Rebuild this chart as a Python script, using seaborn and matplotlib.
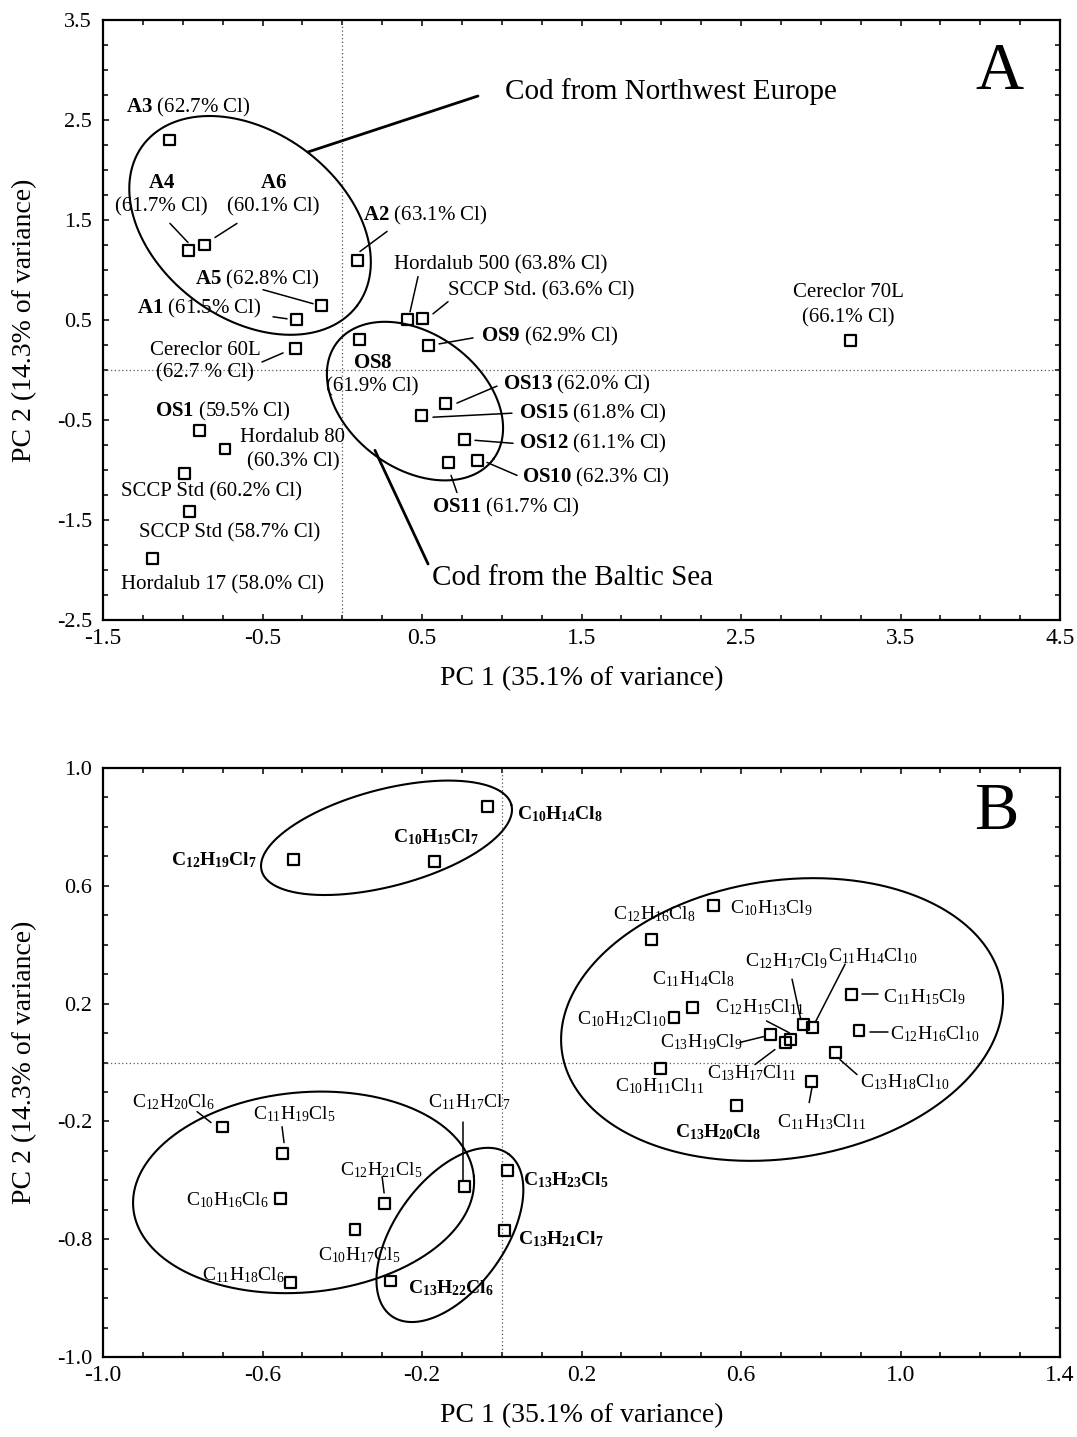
import re
import numpy as np
import pandas as pd
import matplotlib
matplotlib.use("Agg")
import matplotlib.pyplot as plt
from matplotlib.ticker import MultipleLocator, FixedLocator, FixedFormatter
import seaborn as sns

sns.set_style("ticks")
plt.rcParams["font.family"] = ["Liberation Serif", "DejaVu Serif"]
plt.rcParams["mathtext.fontset"] = "custom"
plt.rcParams["mathtext.rm"] = "Liberation Serif"
plt.rcParams["mathtext.bf"] = "Liberation Serif:bold"
plt.rcParams["mathtext.it"] = "Liberation Serif:italic"
plt.rcParams["mathtext.default"] = "regular"
for key in ("text.color", "axes.labelcolor", "xtick.color", "ytick.color",
            "xtick.labelcolor", "ytick.labelcolor"):
    plt.rcParams[key] = "black"

# ---------------- Panel A: samples and technical mixtures ----------------
a_names = ["A1", "A2", "A3", "A4", "A5", "A6",
           "OS1", "OS8", "OS9", "OS10", "OS11", "OS12", "OS13", "OS15",
           "Cereclor 60L", "Cereclor 70L", "Hordalub 17", "Hordalub 80",
           "Hordalub 500", "SCCP Std", "SCCP Std", "SCCP Std."]
a_cl = [61.5, 63.1, 62.7, 61.7, 62.8, 60.1,
        59.5, 61.9, 62.9, 62.3, 61.7, 61.1, 62.0, 61.8,
        62.7, 66.1, 58.0, 60.3, 63.8, 60.2, 58.7, 63.6]
a_pc1 = [-0.286, 0.094, -1.084, -0.965, -0.133, -0.861,
         -0.896, 0.111, 0.540, 0.847, 0.665, 0.766, 0.648, 0.498,
         -0.296, 3.188, -1.191, -0.735, 0.408, -0.990, -0.955, 0.504]
a_pc2 = [0.502, 1.094, 2.300, 1.195, 0.643, 1.250,
         -0.609, 0.301, 0.248, -0.904, -0.927, -0.696, -0.335, -0.459,
         0.211, 0.294, -1.885, -0.790, 0.509, -1.031, -1.416, 0.515]
a_is_cod = [True] * 14 + [False] * 8

# ---------------- Panel B: congener groups ----------------
b_formula = ["C10H14Cl8", "C10H15Cl7", "C12H19Cl7",
             "C12H16Cl8", "C10H13Cl9", "C11H14Cl8", "C10H12Cl10",
             "C12H17Cl9", "C11H14Cl10", "C12H15Cl11", "C13H19Cl9",
             "C13H17Cl11", "C11H15Cl9", "C12H16Cl10", "C13H18Cl10",
             "C10H11Cl11", "C11H13Cl11", "C13H20Cl8",
             "C12H20Cl6", "C11H19Cl5", "C10H16Cl6", "C12H21Cl5",
             "C10H17Cl5", "C11H18Cl6", "C11H17Cl7",
             "C13H23Cl5", "C13H21Cl7", "C13H22Cl6"]
b_pc1 = [-0.036, -0.169, -0.523,
         0.376, 0.531, 0.478, 0.432,
         0.756, 0.779, 0.723, 0.675,
         0.712, 0.876, 0.896, 0.836,
         0.399, 0.777, 0.589,
         -0.701, -0.549, -0.554, -0.293,
         -0.368, -0.529, -0.094,
         0.014, 0.006, -0.278]
b_pc2 = [0.870, 0.683, 0.689,
         0.419, 0.534, 0.188, 0.154,
         0.129, 0.118, 0.078, 0.095,
         0.067, 0.231, 0.110, 0.033,
         -0.020, -0.066, -0.146,
         -0.219, -0.310, -0.463, -0.478,
         -0.566, -0.748, -0.421,
         -0.367, -0.571, -0.742]
b_bold = [True, True, True] + [False] * 14 + [True] + [False] * 7 + [True, True, True]

xlabel = "PC 1 (35.1% of variance)"
ylabel = "PC 2 (14.3% of variance)"
b_ytick_pos = [-1.0, -0.6, -0.2, 0.2, 0.6, 1.0]
b_ytick_lab = ["-1.0", "-0.8", "-0.2", "0.2", "0.6", "1.0"]

# ---------------- layout: label anchors, leaders, group outlines ----------------
# single-line labels: (x, y); two-line labels: (x, y_name, y_pct)
a_single = {0: (-1.287, 0.612), 1: (0.130, 1.546), 2: (-1.356, 2.63),
            4: (-0.923, 0.904), 6: (-1.174, -0.412), 8: (0.870, 0.331),
            9: (1.127, -1.074), 10: (0.563, -1.376), 11: (1.108, -0.733),
            12: (1.008, -0.141), 13: (1.108, -0.432), 16: (-1.387, -2.149),
            18: (0.324, 1.054), 19: (-1.387, -1.215), 20: (-1.274, -1.627),
            21: (0.663, 0.793)}
a_double = {3: (-1.136, 1.867, 1.627), 5: (-0.434, 1.867, 1.627),
            7: (0.190, 0.070, -0.171), 14: (-0.861, 0.191, -0.030),
            15: (3.171, 0.773, 0.522), 17: (-0.309, -0.673, -0.914)}
a_spaced_pct = {14}
a_leaders = [((-1.080, 1.466), (-0.967, 1.275)), ((-0.660, 1.466), (-0.798, 1.325)),
             ((0.281, 1.386), (0.111, 1.185)), ((-0.497, 0.803), (-0.183, 0.663)),
             ((-0.434, 0.532), (-0.346, 0.512)), ((-0.503, 0.080), (-0.371, 0.171)),
             ((0.475, 0.934), (0.425, 0.582)), ((0.663, 0.683), (0.569, 0.562)),
             ((0.820, 0.321), (0.607, 0.261)), ((0.970, -0.161), (0.719, -0.331)),
             ((1.064, -0.432), (0.569, -0.472)), ((1.071, -0.733), (0.832, -0.703)),
             ((1.096, -1.054), (0.907, -0.924)), ((0.719, -1.225), (0.682, -1.054))]
a_groups = [((-0.578, 1.446), (0.671, -0.803), (0.351, 0.743)),
            ((0.456, -0.311), (0.493, -0.577), (0.249, 0.544))]
a_callouts = [("Cod from Northwest Europe", (-0.215, 2.18), (0.851, 2.74), (1.020, 2.78)),
              ("Cod from the Baltic Sea", (0.205, -0.803), (0.538, -1.94), (0.563, -2.078))]

b_labels = [(0.038, 0.844, "left"), (-0.273, 0.766, "left"), (-0.614, 0.688, "right"),
            (0.279, 0.504, "left"), (0.572, 0.524, "left"), (0.377, 0.283, "left"),
            (0.189, 0.146, "left"), (0.610, 0.344, "left"), (0.818, 0.361, "left"),
            (0.535, 0.187, "left"), (0.397, 0.068, "left"), (0.515, -0.037, "left"),
            (0.956, 0.221, "left"), (0.974, 0.095, "left"), (0.898, -0.068, "left"),
            (0.284, -0.082, "left"), (0.690, -0.201, "left"), (0.434, -0.238, "left"),
            (-0.927, -0.133, "left"), (-0.624, -0.177, "left"), (-0.792, -0.466, "left"),
            (-0.406, -0.364, "left"), (-0.461, -0.654, "left"), (-0.752, -0.722, "left"),
            (-0.185, -0.136, "left"), (0.053, -0.398, "left"), (0.041, -0.599, "left"),
            (-0.235, -0.766, "left")]
b_leaders = [((0.728, 0.283), (0.750, 0.146)), ((0.861, 0.334), (0.786, 0.136)),
             ((0.664, 0.141), (0.721, 0.101)), ((0.597, 0.068), (0.660, 0.089)),
             ((0.635, -0.007), (0.685, 0.044)), ((0.903, 0.231), (0.944, 0.231)),
             ((0.924, 0.102), (0.969, 0.102)), ((0.848, 0.010), (0.891, -0.041)),
             ((0.778, -0.085), (0.771, -0.136)), ((-0.764, -0.167), (-0.729, -0.204)),
             ((-0.551, -0.218), (-0.546, -0.272)), ((-0.300, -0.388), (-0.295, -0.443)),
             ((-0.097, -0.201), (-0.097, -0.398))]
b_groups = [((-0.289, 0.763), (0.3132, 0.1117), (0.0308, -0.159)),
            ((-0.497, -0.441), (0.427, 0.0538), (0.0231, -0.338)),
            ((0.703, 0.146), (0.5518, 0.112), (0.0514, -0.4667)),
            ((-0.130, -0.5855), (0.147, 0.2747), (0.111, -0.1097))]

LBL_A = 15
LBL_B = 14
LINE_W = 1.5


def formula_tex(f):
    return re.sub(r"(\d+)", r"$_{\1}$", f)


def outline(ax, center, u, v):
    t = np.linspace(0, 2 * np.pi, 400)
    xs = center[0] + u[0] * np.cos(t) + v[0] * np.sin(t)
    ys = center[1] + u[1] * np.cos(t) + v[1] * np.sin(t)
    ax.plot(xs, ys, color="black", lw=LINE_W, zorder=2)


def style_axes(ax):
    ax.axhline(0, color="0.35", lw=0.9, ls=(0, (1, 2)), zorder=1)
    ax.axvline(0, color="0.35", lw=0.9, ls=(0, (1, 2)), zorder=1)
    for s in ax.spines.values():
        s.set_linewidth(1.6)
        s.set_color("black")
        s.set_visible(True)
    ax.tick_params(which="both", direction="in", top=True, right=True,
                   color="black", width=1.1, labelcolor="black")
    ax.tick_params(which="major", length=4.5)
    ax.tick_params(which="minor", length=3.5)
    ax.tick_params(axis="y", labelsize=16, pad=8)
    ax.tick_params(axis="x", labelsize=17, pad=6)
    ax.set_xlabel(xlabel, fontsize=20, labelpad=12, color="black")
    ax.set_ylabel(ylabel, fontsize=20, labelpad=14, color="black")


fig = plt.figure(figsize=(10.77, 14.37), dpi=100)
ax1 = fig.add_axes([103 / 1077, 1 - 620 / 1437, 957 / 1077, 600 / 1437])
ax2 = fig.add_axes([103 / 1077, 1 - 1357 / 1437, 957 / 1077, 589 / 1437])

# ---- Panel A ----
df_a = pd.DataFrame({"PC1": a_pc1, "PC2": a_pc2})
sns.scatterplot(data=df_a, x="PC1", y="PC2", ax=ax1, marker="s", s=62,
                facecolor="none", edgecolor="black", linewidth=1.6, zorder=4)
ax1.set_xlim(-1.5, 4.5)
ax1.set_ylim(-2.5, 3.5)
ax1.xaxis.set_major_locator(FixedLocator(np.arange(-1.5, 4.51, 1.0)))
ax1.yaxis.set_major_locator(FixedLocator(np.arange(-2.5, 3.51, 1.0)))
ax1.xaxis.set_minor_locator(MultipleLocator(0.25))
ax1.yaxis.set_minor_locator(MultipleLocator(0.25))
ax1.xaxis.set_major_formatter(FixedFormatter([f"{v:.1f}" for v in np.arange(-1.5, 4.51, 1.0)]))
ax1.yaxis.set_major_formatter(FixedFormatter([f"{v:.1f}" for v in np.arange(-2.5, 3.51, 1.0)]))
style_axes(ax1)


def name_tex(i):
    return r"$\mathbf{" + a_names[i] + "}$" if a_is_cod[i] else a_names[i]


def pct_text(i):
    gap = " " if i in a_spaced_pct else ""
    return f"({a_cl[i]:.1f}{gap}% Cl)"


for i, (x, y) in a_single.items():
    ax1.text(x, y, name_tex(i) + " " + pct_text(i), fontsize=LBL_A,
             ha="left", va="center", zorder=5)
for i, (x, yn, yp) in a_double.items():
    ax1.text(x, yn, name_tex(i), fontsize=LBL_A, ha="center", va="center", zorder=5)
    ax1.text(x, yp, pct_text(i), fontsize=LBL_A, ha="center", va="center", zorder=5)
for p0, p1 in a_leaders:
    ax1.plot([p0[0], p1[0]], [p0[1], p1[1]], color="black", lw=1.1, zorder=3)
for c, u, v in a_groups:
    outline(ax1, c, u, v)
for txt, p0, p1, tp in a_callouts:
    ax1.plot([p0[0], p1[0]], [p0[1], p1[1]], color="black", lw=2.0, zorder=3)
    ax1.text(tp[0], tp[1], txt, fontsize=21, ha="left", va="center")
ax1.text(0.937, 0.913, "A", transform=ax1.transAxes, fontsize=48,
         ha="center", va="center")

# ---- Panel B ----
df_b = pd.DataFrame({"PC1": b_pc1, "PC2": b_pc2})
sns.scatterplot(data=df_b, x="PC1", y="PC2", ax=ax2, marker="s", s=62,
                facecolor="none", edgecolor="black", linewidth=1.6, zorder=4)
ax2.set_xlim(-1.0, 1.4)
ax2.set_ylim(-1.0, 1.0)
bx = np.arange(-1.0, 1.41, 0.4)
ax2.xaxis.set_major_locator(FixedLocator(bx))
ax2.xaxis.set_major_formatter(FixedFormatter([f"{v:.1f}".replace("-0.0", "0.0") for v in bx]))
ax2.yaxis.set_major_locator(FixedLocator(b_ytick_pos))
ax2.yaxis.set_major_formatter(FixedFormatter(b_ytick_lab))
ax2.xaxis.set_minor_locator(MultipleLocator(0.1))
ax2.yaxis.set_minor_locator(MultipleLocator(0.1))
style_axes(ax2)

for f, bold, (x, y, ha) in zip(b_formula, b_bold, b_labels):
    ax2.text(x, y, formula_tex(f), fontsize=LBL_B, ha=ha, va="center",
             fontweight="bold" if bold else "normal", zorder=5)
for p0, p1 in b_leaders:
    ax2.plot([p0[0], p1[0]], [p0[1], p1[1]], color="black", lw=1.1, zorder=3)
for c, u, v in b_groups:
    outline(ax2, c, u, v)
ax2.text(0.933, 0.925, "B", transform=ax2.transAxes, fontsize=48,
         ha="center", va="center")

fig.savefig("out.png", dpi=100)
